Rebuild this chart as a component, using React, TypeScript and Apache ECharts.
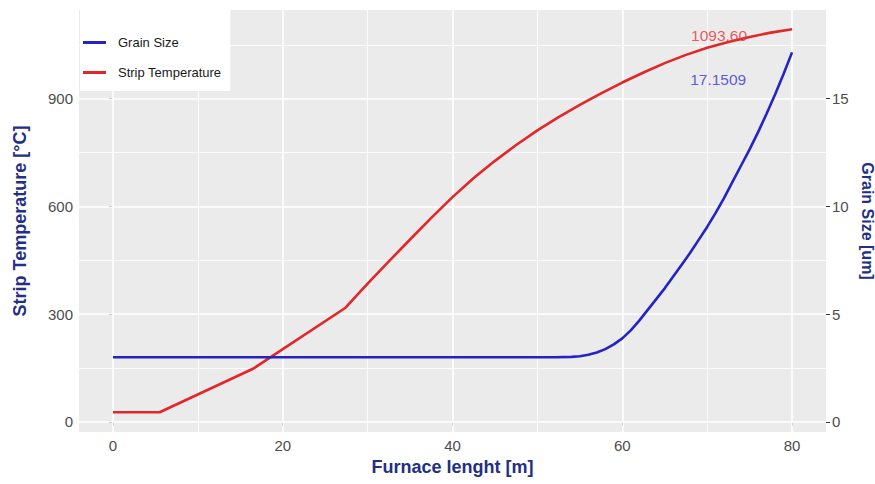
import React, { useEffect, useRef } from "react";
import * as echarts from "echarts";

// ---- data ----
const furnaceXTemp = [0, 5.5, 16.5, 27.4, 30, 32.5, 35, 37.5, 40, 42.5, 45, 47.5, 50, 52.5, 55, 57.5, 60, 62.5, 65, 67.5, 70, 72.5, 75, 77.5, 80];
const stripTemp = [27, 27, 148, 318, 385, 447, 508, 568, 626, 679, 727, 771, 812, 849, 883, 915, 945, 973, 999, 1022, 1042, 1058, 1072, 1084, 1093.6];

const furnaceXGrain = [0, 52, 54, 55, 56, 57, 58, 59, 60, 61, 62, 63, 64, 65, 66, 67, 68, 69, 70, 71, 72, 73, 74, 75, 76, 77, 78, 79, 80];
const grainSize = [3, 3, 3.02, 3.05, 3.12, 3.22, 3.38, 3.6, 3.88, 4.25, 4.7, 5.2, 5.7, 6.2, 6.75, 7.3, 7.85, 8.45, 9.05, 9.7, 10.4, 11.15, 11.9, 12.65, 13.45, 14.3, 15.2, 16.15, 17.1509];

const xTicks = [0, 20, 40, 60, 80];
const xMinor = [10, 30, 50, 70];
const tempTicks = [0, 300, 600, 900];
const tempMinor = [150, 450, 750, 1050];
const grainTicks = [0, 5, 10, 15];

const labelTempPos = [71.4, 1075];
const labelGrainPos = [71.3, 15.88];

const X_MIN = -4;
const X_MAX = 84;
const T_MIN = -28;
const T_MAX = 1147;
const RATIO = 60; // 1 um on the right axis = 60 °C on the left axis

const RED = "#E3262A";
const BLUE = "#2323C6";
const TITLE = "#232E86";
const FONT = "'Liberation Sans', Arial, Helvetica, sans-serif";

export default function App() {
  const ref = useRef<HTMLDivElement>(null);

  useEffect(() => {
    if (!ref.current) return;
    const chart = echarts.init(ref.current, null, { renderer: "svg" });

    const vLines = (xs: number[]) =>
      xs.map((x) => [{ coord: [x, T_MIN] }, { coord: [x, T_MAX] }]);
    const hLines = (ys: number[]) =>
      ys.map((y) => [{ coord: [X_MIN, y] }, { coord: [X_MAX, y] }]);

    const gridSeries = (lines: any[], width: number, name: string, z: number) => ({
      type: "line",
      name,
      data: [[X_MIN, T_MIN]],
      showSymbol: false,
      symbol: "none",
      lineStyle: { opacity: 0 },
      silent: true,
      z,
      xAxisIndex: 0,
      yAxisIndex: 0,
      markLine: {
        silent: true,
        z,
        symbol: ["none", "none"],
        label: { show: false },
        lineStyle: { color: "#FFFFFF", width, type: "solid" },
        emphasis: { disabled: true },
        data: lines,
      },
    });

    const axisLabelStyle = {
      color: "#4D4D4D",
      fontSize: 15,
      fontFamily: FONT,
      margin: 6,
    };
    const tickStyle = { show: true, length: 4, lineStyle: { color: "#333333", width: 1 } };

    chart.setOption({
      animation: false,
      textStyle: { fontFamily: FONT },
      grid: {
        left: 79,
        right: 49,
        top: 10,
        bottom: 52,
        containLabel: false,
        outerBoundsMode: "none",
        show: true,
        backgroundColor: "#EBEBEB",
        borderWidth: 0,
      },
      legend: {
        show: true,
        data: ["Grain Size", "Strip Temperature"],
        orient: "vertical",
        left: 80,
        top: 10,
        padding: [26, 9, 12, 3],
        itemGap: 17,
        itemWidth: 23,
        itemHeight: 3,
        icon: "rect",
        backgroundColor: "#FFFFFF",
        textStyle: { fontSize: 13, color: "#1A1A1A", fontFamily: FONT, padding: [0, 0, 0, 7] },
      },
      xAxis: {
        type: "value",
        min: X_MIN,
        max: X_MAX,
        name: "Furnace lenght [m]",
        nameLocation: "middle",
        nameGap: 26,
        nameTextStyle: { color: TITLE, fontSize: 18, fontWeight: "bold", fontFamily: FONT },
        axisLine: { show: false },
        axisTick: { ...tickStyle, customValues: xTicks },
        axisLabel: { ...axisLabelStyle, customValues: xTicks },
        splitLine: { show: false },
      },
      yAxis: [
        {
          type: "value",
          min: T_MIN,
          max: T_MAX,
          position: "left",
          name: "Strip Temperature [°C]",
          nameLocation: "middle",
          nameGap: 50,
          nameTextStyle: { color: TITLE, fontSize: 18, fontWeight: "bold", fontFamily: FONT },
          axisLine: { show: false },
          axisTick: { ...tickStyle, customValues: tempTicks },
          axisLabel: { ...axisLabelStyle, customValues: tempTicks },
          splitLine: { show: false },
        },
        {
          type: "value",
          min: T_MIN / RATIO,
          max: T_MAX / RATIO,
          position: "right",
          name: "Grain Size [um]",
          nameLocation: "middle",
          nameRotate: -90,
          nameGap: 25,
          nameTextStyle: { color: TITLE, fontSize: 16, fontWeight: "bold", fontFamily: FONT },
          axisLine: { show: false },
          axisTick: { ...tickStyle, customValues: grainTicks },
          axisLabel: { ...axisLabelStyle, customValues: grainTicks },
          splitLine: { show: false },
        },
      ],
      series: [
        gridSeries([...vLines(xMinor), ...hLines(tempMinor)], 0.8, "minor", 0),
        gridSeries([...vLines(xTicks), ...hLines(tempTicks)], 1.6, "major", 1),
        {
          type: "line",
          name: "Strip Temperature",
          xAxisIndex: 0,
          yAxisIndex: 0,
          data: furnaceXTemp.map((x, i) => [x, stripTemp[i]]),
          showSymbol: false,
          symbol: "none",
          lineStyle: { color: RED, width: 2.6 },
          itemStyle: { color: RED },
          z: 10,
        },
        {
          type: "line",
          name: "Grain Size",
          xAxisIndex: 0,
          yAxisIndex: 1,
          data: furnaceXGrain.map((x, i) => [x, grainSize[i]]),
          showSymbol: false,
          symbol: "none",
          lineStyle: { color: BLUE, width: 2.6 },
          itemStyle: { color: BLUE },
          z: 10,
        },
        {
          type: "scatter",
          name: "tempLabel",
          xAxisIndex: 0,
          yAxisIndex: 0,
          symbolSize: 0,
          silent: true,
          z: 12,
          data: [[labelTempPos[0], labelTempPos[1]]],
          label: {
            show: true,
            position: "inside",
            formatter: () => stripTemp[stripTemp.length - 1].toFixed(2),
            color: "#E5323A",
            fontSize: 15.5,
            fontFamily: FONT,
          },
        },
        {
          type: "scatter",
          name: "grainLabel",
          xAxisIndex: 0,
          yAxisIndex: 1,
          symbolSize: 0,
          silent: true,
          z: 12,
          data: [[labelGrainPos[0], labelGrainPos[1]]],
          label: {
            show: true,
            position: "inside",
            formatter: () => grainSize[grainSize.length - 1].toFixed(4),
            color: "#3535D2",
            fontSize: 15.5,
            fontFamily: FONT,
          },
        },
      ],
    });

    return () => chart.dispose();
  }, []);

  return (
    <div
      ref={ref}
      style={{ position: "fixed", left: 0, top: 0, width: 875, height: 484, background: "#FFFFFF" }}
    />
  );
}
